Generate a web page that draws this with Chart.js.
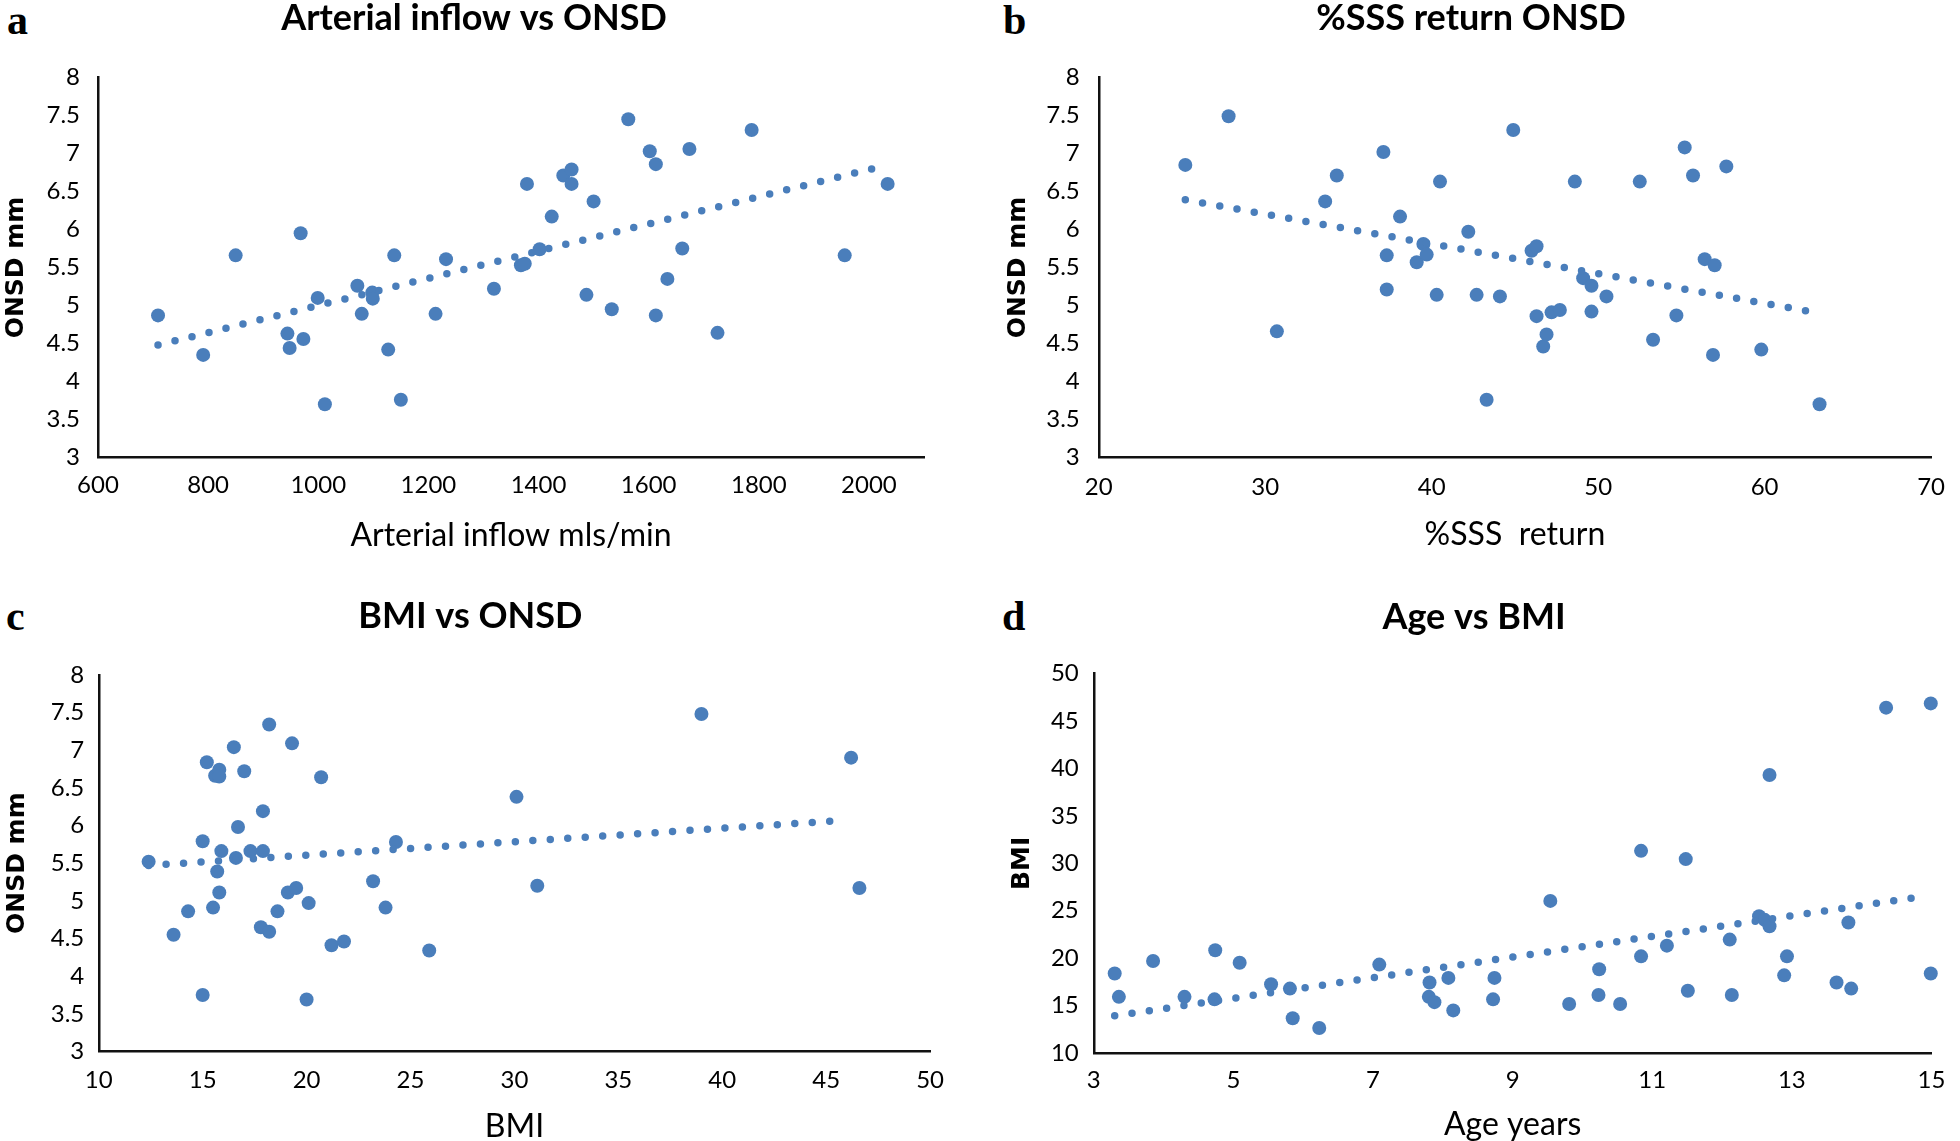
<!DOCTYPE html>
<html>
<head>
<meta charset="utf-8">
<title>ONSD scatter plots</title>
<script src="https://cdn.jsdelivr.net/npm/chart.js@4.4.1/dist/chart.umd.min.js"></script>
<style>
  html, body { margin: 0; padding: 0; background: #fff; width: 1960px; height: 1141px; overflow: hidden; }
  body { position: relative; }
  canvas { position: absolute; }
  .tag { position: absolute; font: bold 42px "Liberation Serif", serif; line-height: 42px; color: #000; }
</style>
</head>
<body>
<div class="tag" style="left:7px;top:-1px">a</div>
<div class="tag" style="left:1003px;top:-1px">b</div>
<div class="tag" style="left:6px;top:595px">c</div>
<div class="tag" style="left:1002px;top:595px">d</div>

<canvas id="chartA" width="948" height="570" style="left:0px;top:0px"></canvas>
<canvas id="chartB" width="978" height="570" style="left:982px;top:0px"></canvas>
<canvas id="chartC" width="958" height="600" style="left:0px;top:560px"></canvas>
<canvas id="chartD" width="968" height="600" style="left:990px;top:560px"></canvas>

<script>
// a: arterial inflow vs ONSD
const inflow = [709, 791, 850, 944, 948, 973, 968, 999, 1012, 1071, 1079, 1098, 1099, 1127, 1138, 1150, 1213, 1232, 1319, 1368, 1375, 1379, 1402, 1424, 1445, 1460, 1460, 1487, 1500, 1533, 1563, 1602, 1613, 1613, 1634, 1661, 1674, 1725, 1787, 1956, 2034];
const onsdA = [4.87, 4.35, 5.66, 4.63, 4.44, 4.56, 5.95, 5.10, 3.70, 5.26, 4.89, 5.17, 5.09, 4.42, 5.66, 3.76, 4.89, 5.61, 5.22, 5.53, 5.55, 6.60, 5.74, 6.17, 6.71, 6.79, 6.60, 5.14, 6.37, 4.95, 7.45, 7.03, 6.86, 4.87, 5.35, 5.75, 7.06, 4.64, 7.31, 5.66, 6.60];
const trendAX = [709, 2023];
const trendAY = [4.48, 6.83];

// b: %SSS return vs ONSD
const sssReturn = [25.2, 27.8, 30.7, 33.6, 34.3, 37.1, 37.3, 37.3, 38.1, 39.1, 39.5, 39.7, 40.3, 40.5, 42.2, 42.7, 43.3, 44.1, 44.9, 46.0, 46.3, 46.3, 46.7, 46.9, 47.2, 47.7, 48.6, 49.1, 49.6, 49.6, 50.5, 52.5, 53.3, 54.7, 55.2, 55.7, 56.4, 57.0, 56.9, 57.7, 59.8, 63.3];
const onsdB = [6.85, 7.49, 4.66, 6.37, 6.71, 7.02, 5.66, 5.21, 6.17, 5.57, 5.81, 5.67, 5.14, 6.63, 5.97, 5.14, 3.76, 5.12, 7.31, 5.72, 5.78, 4.86, 4.46, 4.62, 4.91, 4.94, 6.63, 5.36, 5.26, 4.92, 5.12, 6.63, 4.55, 4.87, 7.08, 6.71, 5.61, 5.53, 4.35, 6.83, 4.42, 3.70];
const trendBX = [25.2, 62.5];
const trendBY = [6.39, 4.93];

// c: BMI vs ONSD
const bmi = [12.4, 13.6, 14.3, 15.0, 15.0, 15.2, 15.5, 15.6, 15.7, 15.8, 15.8, 15.8, 15.9, 16.5, 16.6, 16.7, 17.0, 17.3, 17.8, 17.9, 17.9, 18.2, 18.2, 18.6, 19.1, 19.3, 19.5, 20.0, 20.1, 20.7, 21.2, 21.8, 23.2, 23.8, 24.3, 25.9, 30.1, 31.1, 39.0, 46.2, 46.6];
const onsdC = [5.52, 4.55, 4.86, 5.79, 3.75, 6.84, 4.91, 6.66, 5.39, 6.74, 5.11, 6.65, 5.66, 7.04, 5.57, 5.98, 6.72, 5.66, 4.65, 6.19, 5.66, 7.34, 4.59, 4.86, 5.11, 7.09, 5.17, 3.69, 4.97, 6.64, 4.41, 4.46, 5.26, 4.91, 5.78, 4.34, 6.38, 5.20, 7.48, 6.90, 5.17];
const trendCX = [12.4, 46.0];
const trendCY = [5.47, 6.07];

// d: age vs BMI
const age = [3.30, 3.36, 3.85, 4.30, 4.73, 4.74, 5.09, 5.54, 5.81, 5.85, 6.23, 7.09, 7.81, 7.80, 7.88, 8.08, 8.15, 8.72, 8.74, 9.54, 9.81, 10.23, 10.24, 10.54, 10.84, 10.84, 11.21, 11.48, 11.51, 12.11, 12.14, 12.53, 12.61, 12.68, 12.68, 12.89, 12.93, 13.64, 13.81, 13.85, 14.35, 14.99, 14.99];
const bmiD = [18.38, 15.92, 19.70, 15.92, 15.66, 20.83, 19.51, 17.25, 16.79, 13.66, 12.64, 19.32, 17.43, 15.92, 15.36, 17.92, 14.49, 15.66, 17.92, 26.04, 15.17, 16.11, 18.83, 15.17, 31.32, 20.19, 21.32, 30.45, 16.57, 21.96, 16.11, 24.42, 24.04, 39.32, 23.36, 18.19, 20.19, 17.43, 23.77, 16.79, 46.42, 46.87, 18.38];
const trendDX = [3.30, 14.85];
const trendDY = [13.92, 26.48];

// tick labels
const inflowTicks = [600, 800, 1000, 1200, 1400, 1600, 1800, 2000];
const sssTicks = [20, 30, 40, 50, 60, 70];
const bmiTicks = [10, 15, 20, 25, 30, 35, 40, 45, 50];
const ageTicks = [3, 5, 7, 9, 11, 13, 15];
const onsdTicks = [3, 3.5, 4, 4.5, 5, 5.5, 6, 6.5, 7, 7.5, 8];
const bmiYTicks = [10, 15, 20, 25, 30, 35, 40, 45, 50];

const blue = "#4a7ebb";
const axisColor = "#111";
const tickFont = { family: "Lato", size: 24 };

function makePanel(id, g, xs, ys, tx, ty, xTicks, yTicks, labels) {
  const points = xs.map((x, i) => ({ x: x, y: ys[i] }));
  const trend = tx.map((x, i) => ({ x: x, y: ty[i] }));

  const scales = {
    x: {
      type: "linear",
      min: xTicks[0],
      max: g.xMax,
      afterBuildTicks: (s) => { s.ticks = xTicks.map((v) => ({ value: v })); },
      afterFit: (s) => { s.height = g.xAxisH; },
      grid: { display: false, drawTicks: false },
      border: { display: true, color: axisColor, width: 2.5 },
      ticks: { padding: g.xTickPad, color: "#000", font: tickFont, autoSkip: false, maxRotation: 0, callback: (v) => String(v) },
      title: { display: true, text: labels.x, color: "#000", font: { family: "Lato", size: 32 }, padding: { top: 0, bottom: g.xTitlePad } },
    },
    y: {
      type: "linear",
      min: yTicks[0],
      max: yTicks[yTicks.length - 1],
      afterBuildTicks: (s) => { s.ticks = yTicks.map((v) => ({ value: v })); },
      afterFit: (s) => { s.width = g.yAxisW; },
      grid: { display: false, drawTicks: false },
      border: { display: true, color: axisColor, width: 2.5 },
      ticks: { padding: g.yTickPad, color: "#000", font: tickFont, autoSkip: false, callback: (v) => String(v) },
      title: { display: true, text: labels.y, color: "#000", font: { family: "DejaVu Sans", size: 25, weight: "bold" }, padding: { top: g.yTitlePad, bottom: 0 } },
    },
  };

  // empty right-hand box so the chart title can sit off the plot centre
  if (g.rightW) {
    scales.spacer = {
      type: "linear",
      axis: "y",
      position: "right",
      afterFit: (s) => { s.width = g.rightW; },
      grid: { display: false, drawTicks: false },
      border: { display: false },
      ticks: { display: false },
    };
  }

  return new Chart(id, {
    type: "scatter",
    data: {
      datasets: [
        {
          type: "line",
          data: trend,
          showLine: true,
          borderColor: blue,
          borderWidth: 7.5,
          borderDash: [0, 17.5],
          borderCapStyle: "round",
          pointRadius: 0,
          fill: false,
          clip: false,
        },
        {
          data: points,
          backgroundColor: blue,
          borderColor: blue,
          borderWidth: 0,
          pointRadius: 7,
          pointHoverRadius: 7,
          clip: false,
        },
      ],
    },
    options: {
      responsive: false,
      animation: false,
      devicePixelRatio: 1,
      events: [],
      layout: { padding: { left: 0, right: g.padR, top: 0, bottom: 0 } },
      plugins: {
        legend: { display: false },
        tooltip: { enabled: false },
        title: {
          display: true,
          text: labels.title,
          color: "#000",
          font: { family: "Lato", size: 36, weight: "bold", lineHeight: 0.9 },
          padding: { top: g.tTop, bottom: g.tBottom },
        },
      },
      scales: scales,
    },
  });
}

makePanel("chartA",
  { padR: 0, rightW: 24, tTop: 2.5, tBottom: 42.6, xMax: 2100, xAxisH: 112.5, xTickPad: 13, xTitlePad: 15.3, yAxisW: 98, yTickPad: 18, yTitlePad: 1 },
  inflow, onsdA, trendAX, trendAY, inflowTicks, onsdTicks,
  { title: "Arterial inflow vs ONSD", x: "Arterial inflow mls/min", y: "ONSD mm" });

makePanel("chartB",
  { padR: 0, rightW: 17.5, tTop: 2.5, tBottom: 42.6, xMax: 70, xAxisH: 112.5, xTickPad: 15, xTitlePad: 15.8, yAxisW: 116.75, yTickPad: 19, yTitlePad: 21 },
  sssReturn, onsdB, trendBX, trendBY, sssTicks, onsdTicks,
  { title: "%SSS return ONSD", x: "%SSS  return", y: "ONSD mm" });

makePanel("chartC",
  { padR: 17.4, rightW: 0, tTop: 40, tBottom: 42.4, xMax: 50, xAxisH: 108.5, xTickPad: 14, xTitlePad: 13.8, yAxisW: 98.75, yTickPad: 14.5, yTitlePad: 2 },
  bmi, onsdC, trendCX, trendCY, bmiTicks, onsdTicks,
  { title: "BMI vs ONSD", x: "BMI", y: "ONSD mm" });

makePanel("chartD",
  { padR: 0, rightW: 14, tTop: 41, tBottom: 40.3, xMax: 15, xAxisH: 107, xTickPad: 12.6, xTitlePad: 16.3, yAxisW: 103.75, yTickPad: 15, yTitlePad: 17 },
  age, bmiD, trendDX, trendDY, ageTicks, bmiYTicks,
  { title: "Age vs BMI", x: "Age years", y: "BMI" });
</script>
</body>
</html>
